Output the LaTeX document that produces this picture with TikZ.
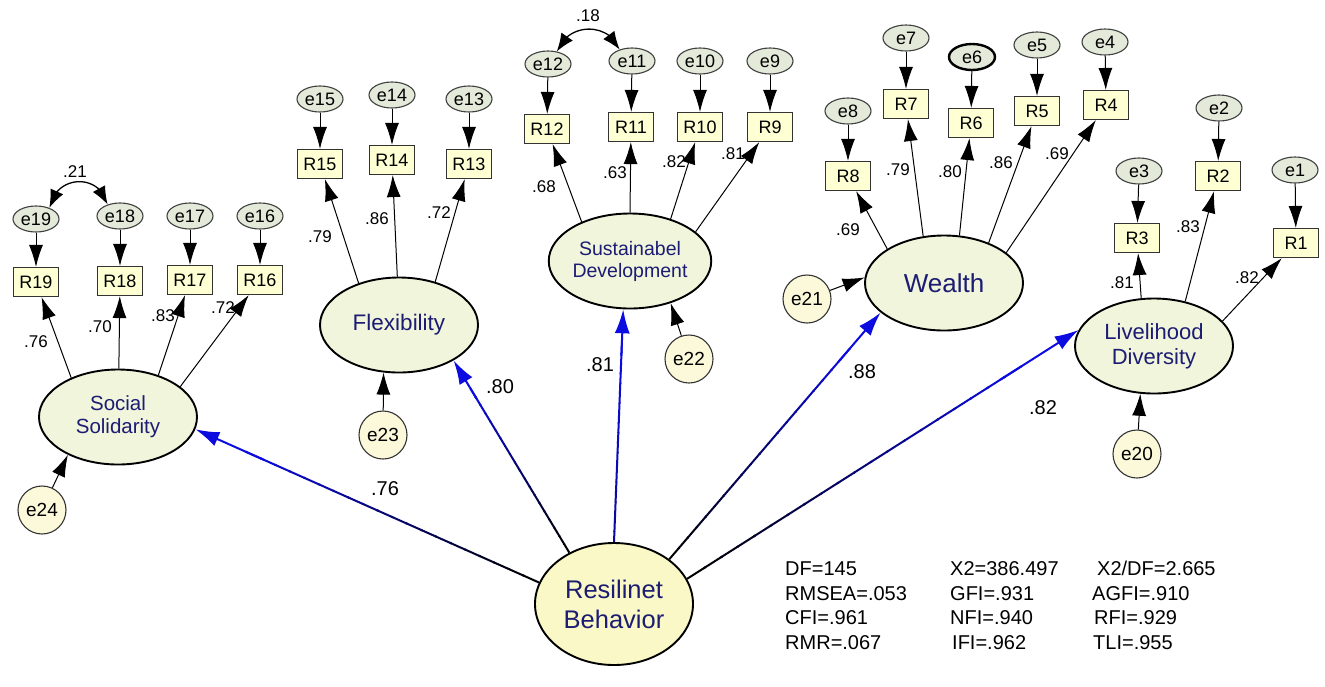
\documentclass[tikz,border=0pt]{standalone}
\usepackage{fontspec}
\setmainfont{Liberation Sans}
\usetikzlibrary{arrows.meta,calc,shapes.geometric,bending}
\definecolor{navy}{RGB}{28,28,115}
\definecolor{latfill}{RGB}{241,245,220}
\definecolor{rbfill}{RGB}{250,248,198}
\definecolor{errfill}{RGB}{228,234,218}
\definecolor{dfill}{RGB}{252,249,218}
\definecolor{boxfill}{RGB}{255,255,212}
\definecolor{strblue}{RGB}{12,12,225}
\tikzset{
  latent/.style={ellipse, draw, line width=1.9pt, fill=latfill, minimum width=158pt, minimum height=95pt, inner sep=0pt, align=center, text=navy},
  obs/.style={rectangle, draw=black!80, line width=1.1pt, fill=boxfill, minimum width=45pt, minimum height=29pt, inner sep=0pt, font=\fontsize{18}{18}\selectfont},
  errv/.style={ellipse, draw=black!75, line width=1.1pt, fill=errfill, minimum width=46pt, minimum height=26pt, inner sep=0pt, font=\fontsize{18}{18}\selectfont},
  dist/.style={circle, draw=black!80, line width=1.1pt, fill=dfill, minimum size=48pt, inner sep=0pt, font=\fontsize{19}{19}\selectfont},
  coef/.style={font=\fontsize{17}{17}\selectfont, inner sep=0pt},
  bigcoef/.style={font=\fontsize{20}{20}\selectfont, inner sep=0pt},
  stat/.style={font=\fontsize{20}{20}\selectfont, inner sep=0pt, anchor=base west},
  ind/.style={draw, line width=1pt, -{Latex[length=22pt,width=14pt]}},
  cov/.style={draw, line width=1.3pt, {Latex[length=18pt,width=14pt]}-{Latex[length=18pt,width=14pt]}},
}
\newcommand{\gradline}[3]{%
  \foreach \k in {0,...,19}{%
    \pgfmathsetmacro{\gta}{0.85*\k/20}%
    \pgfmathsetmacro{\gtb}{0.85*(\k+1)/20+0.005}%
    \pgfmathtruncatemacro{\gpc}{#3+(100-#3)*\k/19}%
    \draw[line width=2pt, strblue!\gpc!black] ($(#1)!\gta!(#2)$) -- ($(#1)!\gtb!(#2)$);
  }%
  \draw[line width=2pt, strblue, -{Latex[length=24pt,width=15pt]}] ($(#1)!0.8!(#2)$) -- (#2);
}
\begin{document}
\begin{tikzpicture}[x=1pt,y=-1pt]
\fill[white] (0,0) rectangle (1325,686);
\useasboundingbox (0,0) rectangle (1325,686);

% latent variables
\node[latent, font=\fontsize{20.5}{23}\selectfont] (ss) at (118,417) {Social\\Solidarity};
\node[latent, font=\fontsize{22.5}{24}\selectfont] (flex) at (399,325) {Flexibility};
\node[latent, font=\fontsize{19.5}{22}\selectfont] (sd) at (630,261) {Sustainabel\\Development};
\node[latent, font=\fontsize{26}{28}\selectfont] (wl) at (944,283) {Wealth};
\node[latent, font=\fontsize{22}{25}\selectfont] (ld) at (1154,346) {Livelihood\\Diversity};
\node[latent, fill=rbfill, minimum height=122pt, font=\fontsize{25.5}{30}\selectfont] (rb) at (614,604) {Resilinet\\Behavior};

% observed
\node[obs] (r19) at (36,282) {R19};
\node[obs] (r18) at (120,281) {R18};
\node[obs] (r17) at (190,280) {R17};
\node[obs] (r16) at (260,280) {R16};
\node[obs] (r15) at (320,164) {R15};
\node[obs] (r14) at (392,160) {R14};
\node[obs] (r13) at (469,164) {R13};
\node[obs] (r12) at (547,129) {R12};
\node[obs] (r11) at (631,127) {R11};
\node[obs] (r10) at (700,127) {R10};
\node[obs] (r9) at (770,127) {R9};
\node[obs] (r8) at (848,176) {R8};
\node[obs] (r7) at (906,104) {R7};
\node[obs] (r6) at (971,123) {R6};
\node[obs] (r5) at (1037,111) {R5};
\node[obs] (r4) at (1106,105) {R4};
\node[obs] (r3) at (1137,238) {R3};
\node[obs] (r2) at (1218,176) {R2};
\node[obs] (r1) at (1296,243) {R1};

% error terms
\node[errv] (e19) at (36,219) {e19};
\node[errv] (e18) at (120,216) {e18};
\node[errv] (e17) at (190,216) {e17};
\node[errv] (e16) at (260,216) {e16};
\node[errv] (e15) at (320,99) {e15};
\node[errv] (e14) at (392,95) {e14};
\node[errv] (e13) at (469,99) {e13};
\node[errv] (e12) at (548,64) {e12};
\node[errv] (e11) at (632,61) {e11};
\node[errv] (e10) at (700,61) {e10};
\node[errv] (e9) at (770,61) {e9};
\node[errv] (e8) at (848,111) {e8};
\node[errv] (e7) at (906,38) {e7};
\node[errv, draw=black, line width=2.4pt] (e6) at (972,57) {e6};
\node[errv] (e5) at (1037,45) {e5};
\node[errv] (e4) at (1105,42) {e4};
\node[errv] (e3) at (1139,171) {e3};
\node[errv] (e2) at (1219,108) {e2};
\node[errv] (e1) at (1295,170) {e1};

% disturbances
\node[dist] (e24) at (42,510) {e24};
\node[dist] (e23) at (383,435) {e23};
\node[dist] (e22) at (689,359) {e22};
\node[dist] (e21) at (807,299) {e21};
\node[dist] (e20) at (1137,454) {e20};

% indicator loadings
\draw[ind] (ss.140) -- (r19);
\draw[ind] (ss.89) -- (r18);
\draw[ind] (ss.46) -- (r17);
\draw[ind] (ss.26) -- (r16);
\draw[ind] (flex.134) -- (r15);
\draw[ind] (flex.92) -- (r14);
\draw[ind] (flex.50) -- (r13);
\draw[ind] (sd.141) -- (r12);
\draw[ind] (sd.90) -- (r11);
\draw[ind] (sd.46) -- (r10);
\draw[ind] (sd.24) -- (r9);
\draw[ind] (wl.149) -- (r8);
\draw[ind] (wl.114) -- (r7);
\draw[ind] (wl.72) -- (r6);
\draw[ind] (wl.42) -- (r5);
\draw[ind] (wl.26) -- (r4);
\draw[ind] (ld.105) -- (r3);
\draw[ind] (ld.55) -- (r2);
\draw[ind] (ld.20) -- (r1);

% error -> indicator
\foreach \n in {1,...,19}{\draw[ind] (e\n) -- (r\n);}

% disturbance arrows
\draw[ind] (e24) -- (ss.217);
\draw[ind] (e23) -- (flex.252);
\draw[ind] (e22) -- (sd.314);
\draw[ind] (e21) -- (wl.176);
\draw[ind] (e20) -- (ld.254);

% covariances
\draw[cov] (e19.40) .. controls (56,174) and (100,173) .. (e18.137);
\draw[cov] (e12.55) .. controls (568,22) and (609,22) .. (e11.137);
\node[coef] (c21) at (75,172) {.21};
\node[coef] (c18) at (588,16) {.18};

% structural paths
\gradline{rb.164}{ss.351}{0}
\gradline{rb.131}{flex.327}{0}
\gradline{rb.90}{sd.262}{70}
\gradline{rb.39}{wl.205}{0}
\gradline{rb.19}{ld.168}{0}

% loading labels
\node[coef] (l19) at (36,342) {.76};
\node[coef] (l18) at (100,327) {.70};
\node[coef] (l17) at (163,316) {.83};
\node[coef] (l16) at (223,308) {.72};
\node[coef] (l15) at (320,237) {.79};
\node[coef] (l14) at (377,219) {.86};
\node[coef] (l13) at (439,213) {.72};
\node[coef] (l12) at (544,187) {.68};
\node[coef] (l11) at (615,173) {.63};
\node[coef] (l10) at (674,162) {.82};
\node[coef] (l9) at (733,154) {.81};
\node[coef] (l8) at (848,230) {.69};
\node[coef] (l7) at (898,170) {.79};
\node[coef] (l6) at (950,172) {.80};
\node[coef] (l5) at (1001,163) {.86};
\node[coef] (l4) at (1057,154) {.69};
\node[coef] (l3) at (1122,283) {.81};
\node[coef] (l2) at (1188,227) {.83};
\node[coef] (l1) at (1247,278) {.82};

% structural labels
\node[bigcoef] (bss) at (385,489) {.76};
\node[bigcoef] (bfl) at (500,387) {.80};
\node[bigcoef] (bsd) at (600,365) {.81};
\node[bigcoef] (bwl) at (862,372) {.88};
\node[bigcoef] (bld) at (1043,408) {.82};

% fit statistics
\node[stat] (s11) at (785,575) {DF=145};
\node[stat] (s21) at (785,600) {RMSEA=.053};
\node[stat] (s31) at (785,624) {CFI=.961};
\node[stat] (s41) at (785,649) {RMR=.067};
\node[stat] (s12) at (950,575) {X2=386.497};
\node[stat] (s22) at (950,600) {GFI=.931};
\node[stat] (s32) at (950,624) {NFI=.940};
\node[stat] (s42) at (952,649) {IFI=.962};
\node[stat] (s13) at (1097,575) {X2/DF=2.665};
\node[stat] (s23) at (1092,600) {AGFI=.910};
\node[stat] (s33) at (1094,624) {RFI=.929};
\node[stat] (s43) at (1093,649) {TLI=.955};
\end{tikzpicture}
\end{document}
